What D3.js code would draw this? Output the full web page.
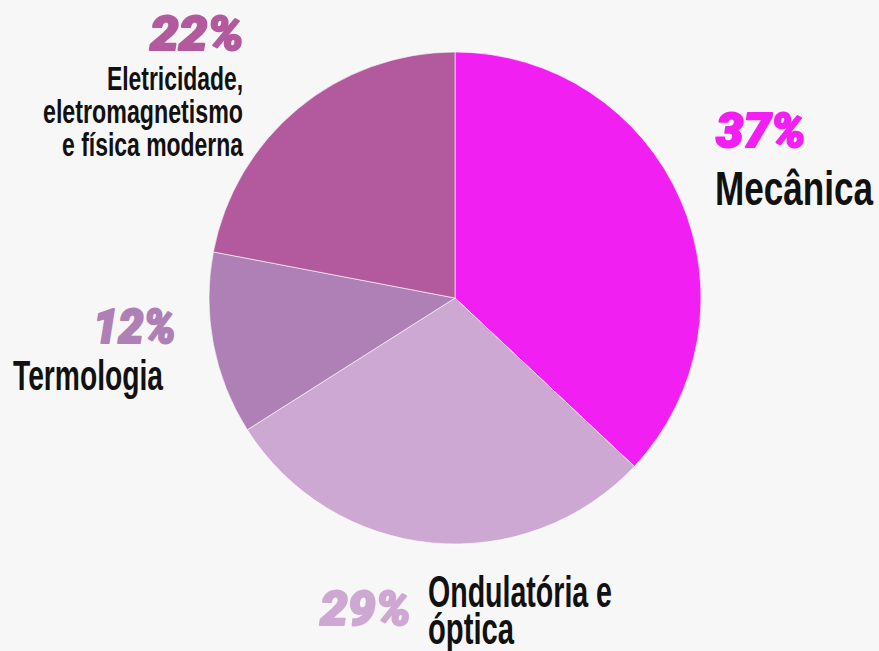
<!DOCTYPE html>
<html>
<head>
<meta charset="utf-8">
<script src="https://cdn.jsdelivr.net/npm/d3@7"></script>
<style>
  html, body { margin: 0; padding: 0; background: #f8f7f8; }
  svg { display: block; }
  .pct { font-family: Roboto, "Open Sans", sans-serif; font-weight: 900; font-style: italic; font-size: 48px; stroke-width: 2px; stroke-linejoin: round; }
  .name { font-family: "Liberation Sans", Arial, sans-serif; font-weight: bold; fill: #111; }
</style>
</head>
<body>
<div id="chart"></div>
<script>
const categories = ["Mecânica", "Ondulatória e óptica", "Termologia", "Eletricidade, eletromagnetismo e física moderna"];
const values = [37, 29, 12, 22];
const colors = ["#f21ff2", "#cda8d2", "#ae80b6", "#b35a9e"];
const nameLines = [["Mecânica"], ["Ondulatória e", "óptica"], ["Termologia"], ["Eletricidade,", "eletromagnetismo", "e física moderna"]];

const width = 879, height = 651;
const cx = 455, cy = 298, radius = 246;

// label layout (positions + fitted widths), kept apart from the data
const labelLayout = [
  { px: 716, py: 147, pw: 90, anchor: "start", nx: 715, ny: 205, size: 48, lh: 34, nw: [158] },
  { px: 411, py: 625, pw: 91, anchor: "end", nameAnchor: "start", nx: 428, ny: 607, size: 45, lh: 37, nw: [184, 86] },
  { px: 176, py: 343, pw: 83, anchor: "end", nx: 163, ny: 390, size: 43, lh: 34, nw: [150] },
  { px: 244, py: 50, pw: 94, anchor: "end", nx: 243, ny: 90, size: 34, lh: 33, nw: [136, 200, 181] }
];

const svg = d3.select("#chart")
  .append("svg")
  .attr("width", width)
  .attr("height", height);

const pie = d3.pie().sort(null).value(d => d);
const arc = d3.arc().innerRadius(0).outerRadius(radius);

const g = svg.append("g").attr("transform", `translate(${cx},${cy})`);

g.selectAll("path")
  .data(pie(values))
  .join("path")
  .attr("d", arc)
  .attr("fill", (d, i) => colors[i])
  .attr("stroke", "rgba(255,255,255,0.6)")
  .attr("stroke-width", 1);

labelLayout.forEach((l, i) => {
  svg.append("text")
    .attr("class", "pct")
    .attr("x", l.px)
    .attr("y", l.py)
    .attr("text-anchor", l.anchor)
    .attr("textLength", l.pw)
    .attr("lengthAdjust", "spacingAndGlyphs")
    .attr("fill", colors[i])
    .attr("stroke", colors[i])
    .text(values[i] + "%");

  nameLines[i].forEach((line, j) => {
    svg.append("text")
      .attr("class", "name")
      .attr("x", l.nx)
      .attr("y", l.ny + j * l.lh)
      .attr("text-anchor", l.nameAnchor || l.anchor)
      .attr("textLength", l.nw[j])
      .attr("lengthAdjust", "spacingAndGlyphs")
      .style("font-size", l.size + "px")
      .text(line);
  });
});
</script>
</body>
</html>
